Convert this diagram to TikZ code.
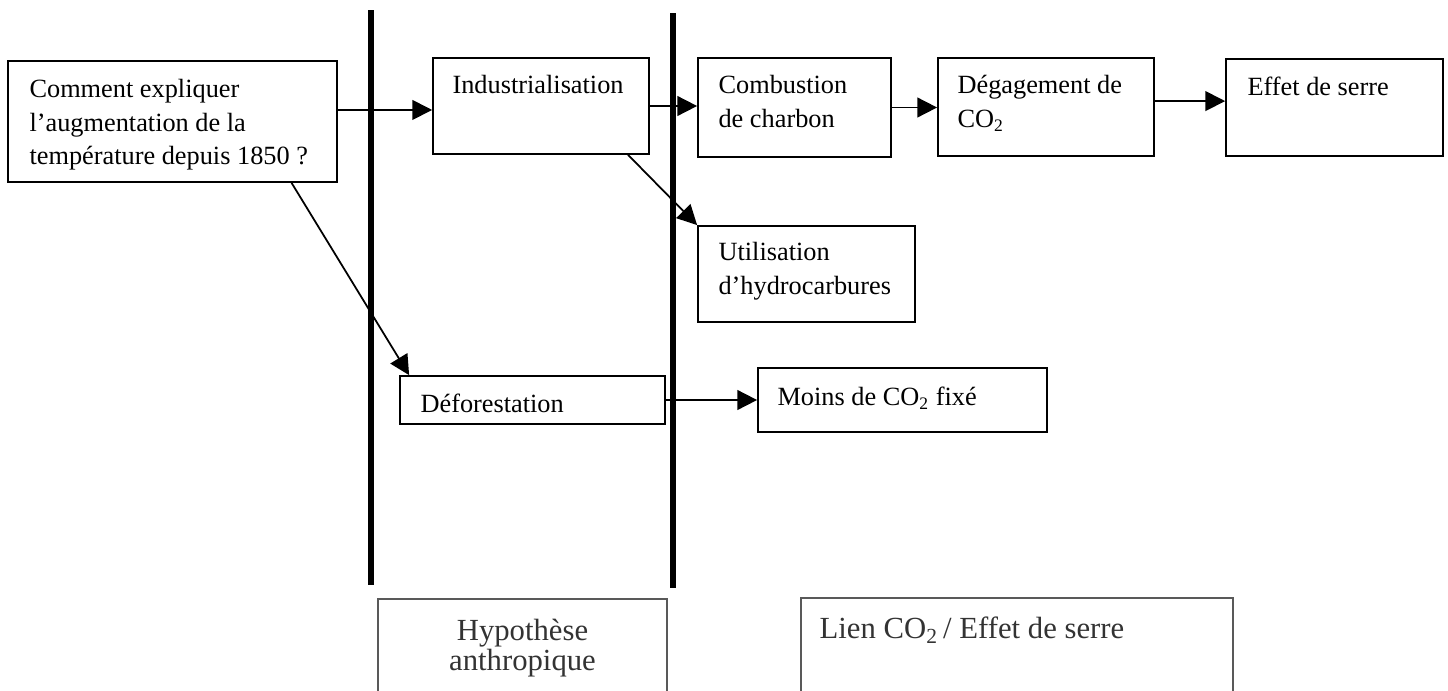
\documentclass[tikz,border=0pt]{standalone}
\usepackage{fontspec}
\setmainfont{Liberation Serif}
\usetikzlibrary{positioning,calc,arrows.meta,fit}
\tikzset{
  figfont/.style={font=\fontsize{12}{15.2}\selectfont},
  figbox/.style={draw, line width=0.8pt, inner sep=0pt},
  figboxgray/.style={draw=black!65, line width=0.7pt, inner sep=0pt},
  figtext/.style={figfont, anchor=north west, inner sep=0pt, align=left},
  figtextgray/.style={font=\fontsize{14}{14}\selectfont, text=black!80, inner sep=0pt},
  figarrow/.style={-{Triangle[length=9pt, width=9pt]}, line width=0.8pt},
  figsep/.style={line width=2.8pt},
}

\begin{document}
\begin{tikzpicture}[x=0.456pt, y=-0.456pt]
  \useasboundingbox (0,0) rectangle (1448,690);
  \clip (0,0) rectangle (1448,690);

  % Separator lines
  \draw[figsep] (371,10) -- (371,585);
  \draw[figsep] (673,13) -- (673,588);

  % Question box
  \node[figbox, fit={(8,61) (337,182)}] (question) {};
  \node[figtext] (questiontext) at ($(question.north west)+(22,19)$) {Comment expliquer\\l’augmentation de la\\température depuis 1850 ?};

  % Top chain
  \node[figbox, fit={(433,58) (649,154)}] (indus) {};
  \node[figtext] (industext) at ($(indus.north west)+(20,18)$) {Industrialisation};
  \node[figbox, fit={(698,58) (891,157)}] (charbon) {};
  \node[figtext] (charbontext) at ($(charbon.north west)+(21,18)$) {Combustion\\de charbon};
  \node[figbox, fit={(938,58) (1154,156)}] (degag) {};
  \node[figtext] (degagtext) at ($(degag.north west)+(20,18)$) {Dégagement de\\CO\textsubscript{2}};
  \node[figbox, fit={(1226,59) (1443,156)}] (serre) {};
  \node[figtext] (serretext) at ($(serre.north west)+(22,18)$) {Effet de serre};

  % Hydrocarbons
  \node[figbox, fit={(698,226) (915,322)}] (hydro) {};
  \node[figtext] (hydrotext) at ($(hydro.north west)+(21,17)$) {Utilisation\\d’hydrocarbures};

  % Deforestation branch
  \node[figbox, fit={(400,376) (665,424)}] (defor) {};
  \node[figtext] (defortext) at ($(defor.north west)+(21,18)$) {Déforestation};
  \node[figbox, fit={(758,368) (1047,432)}] (moins) {};
  \node[figtext] (moinstext) at ($(moins.north west)+(20,19)$) {Moins de CO\textsubscript{2} fixé};

  % Bottom captions
  \node[figboxgray, fit={(378,599) (667,700)}] (hyp) {};
  \node[figtextgray, anchor=north, align=center] (hyptext) at ($(hyp.north)+(0,20)$) {Hypothèse\\anthropique};
  \node[figboxgray, fit={(801,598) (1233,700)}] (lien) {};
  \node[figtextgray, anchor=north west] (lientext) at ($(lien.north west)+(19,19)$) {Lien CO\textsubscript{2}\,/ Effet de serre};

  % Arrows
  \draw[figarrow] ([yshift=-1.8pt]question.east |- indus.west) -- ([yshift=-1.8pt]indus.west);
  \draw[figarrow] (indus.east) -- (indus.east -| charbon.west);
  \draw[figarrow] (charbon.east) -- (charbon.east -| degag.west);
  \draw[figarrow] ([yshift=2.7pt]degag.east) -- ([yshift=2.7pt]degag.east -| serre.west);
  \draw[figarrow] ($(indus.south west)!0.9!(indus.south east)$) -- (hydro.north west);
  \draw[figarrow] ($(question.south west)!0.86!(question.south east)$) -- ($(defor.north west)+(10,0)$);
  \draw[figarrow] (defor.east) -- (defor.east -| moins.west);
\end{tikzpicture}
\end{document}
